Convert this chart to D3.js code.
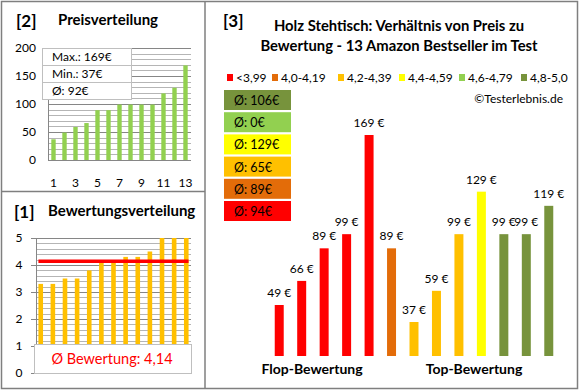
<!DOCTYPE html>
<html>
<head>
<meta charset="utf-8">
<title>Holz Stehtisch Preis / Bewertung</title>
<script src="https://d3js.org/d3.v7.min.js"></script>
<style>
  body { margin: 0; background: #fff; }
  text { font-family: Lato, "Open Sans", Arial, sans-serif; fill: #000; }
</style>
</head>
<body>
<div id="chart"></div>
<script>
// ---- data ----
var rankLabels = [1, 2, 3, 4, 5, 6, 7, 8, 9, 10, 11, 12, 13];
var pricesSorted = [37, 49, 59, 66, 89, 89, 99, 99, 99, 99, 119, 129, 169];
var priceTicks = [0, 50, 100, 150, 200];
var priceStats = ["Max.: 169€", "Min.: 37€", "Ø: 92€"];

var ratingsSorted = [3.3, 3.3, 3.5, 3.5, 3.8, 4.1, 4.1, 4.3, 4.3, 4.5, 5, 5, 5];
var ratingTicks = [0, 1, 2, 3, 4, 5];
var ratingAvg = 4.14;
var ratingAvgText = "Ø Bewertung: 4,14";

var legendLabels = ["<3,99", "4,0-4,19", "4,2-4,39", "4,4-4,59", "4,6-4,79", "4,8-5,0"];
var legendColors = ["#FF0000", "#E36C09", "#FFC000", "#FFFF00", "#92D050", "#77933C"];
var groupAvgLabels = ["Ø: 94€", "Ø: 89€", "Ø: 65€", "Ø: 129€", "Ø: 0€", "Ø: 106€"]; // same order as legend

var mainPrices = [49, 66, 89, 99, 169, 89, 37, 59, 99, 129, 99, 99, 119];
var mainGroup = [0, 0, 0, 0, 0, 1, 2, 2, 2, 3, 5, 5, 5];
var sectionLabels = ["Flop-Bewertung", "Top-Bewertung"];

var W = 580, H = 390;
var svg = d3.select("#chart").append("svg")
    .attr("width", W).attr("height", H);

svg.append("rect").attr("width", W).attr("height", H).attr("fill", "#fff");

// frame lines
var frame = svg.append("g").attr("stroke", "#7f7f7f").attr("stroke-width", 1.5).attr("fill", "none");
frame.append("rect").attr("x", 1.5).attr("y", 1.5).attr("width", 576).attr("height", 387);
frame.append("line").attr("x1", 205).attr("x2", 205).attr("y1", 1.5).attr("y2", 388.5);
frame.append("line").attr("x1", 1.5).attr("x2", 205).attr("y1", 191.5).attr("y2", 191.5);

// ===== [2] Preisverteilung =====
svg.append("text").attr("x", 16).attr("y", 27)
    .style("font-size", "17px").style("font-weight", "bold").text("[2]");
svg.append("text").attr("x", 58).attr("y", 25)
    .style("font-size", "15px").style("font-weight", "bold").text("Preisverteilung");

var x2 = d3.scaleBand().domain(rankLabels).range([48, 191]).paddingInner(0.6).paddingOuter(0.3);
var y2 = d3.scaleLinear().domain([0, 200]).range([160, 48]);

var g2 = svg.append("g");
g2.selectAll("line.minor").data(d3.range(0, 201, 10)).enter().append("line")
    .attr("x1", 48).attr("x2", 191)
    .attr("y1", function(d) { return Math.round(y2(d)) + 0.5; })
    .attr("y2", function(d) { return Math.round(y2(d)) + 0.5; })
    .attr("stroke", function(d) { return d % 50 === 0 ? "#868686" : "#b5b5b5"; });
g2.append("line").attr("x1", 48.5).attr("x2", 48.5).attr("y1", 48).attr("y2", 160).attr("stroke", "#868686");

g2.selectAll("rect.bar").data(pricesSorted).enter().append("rect")
    .attr("x", function(d, i) { return x2(rankLabels[i]); })
    .attr("width", x2.bandwidth())
    .attr("y", function(d) { return y2(d); })
    .attr("height", function(d) { return y2(0) - y2(d); })
    .attr("fill", "#92D050");

g2.selectAll("text.yt").data(priceTicks).enter().append("text")
    .attr("x", 36).attr("y", function(d) { return y2(d) + 4; })
    .attr("text-anchor", "end").style("font-size", "12px")
    .text(function(d) { return d; });
g2.selectAll("text.xt").data(rankLabels.filter(function(d) { return d % 2 === 1; })).enter().append("text")
    .attr("x", function(d) { return x2(d) + x2.bandwidth() / 2; })
    .attr("y", 187).attr("text-anchor", "middle").style("font-size", "12px")
    .text(function(d) { return d; });

// stats box
var sb = g2.append("g");
sb.selectAll("rect").data(priceStats).enter().append("rect")
    .attr("x", 42.5).attr("width", 89)
    .attr("y", function(d, i) { return 48.5 + i * 17; }).attr("height", 17)
    .attr("fill", "#fff").attr("stroke", "#bfbfbf");
sb.selectAll("text").data(priceStats).enter().append("text")
    .attr("x", 52).attr("y", function(d, i) { return 61 + i * 17; })
    .style("font-size", "12px").text(function(d) { return d; });

// ===== [1] Bewertungsverteilung =====
svg.append("text").attr("x", 14).attr("y", 218)
    .style("font-size", "17px").style("font-weight", "bold").text("[1]");
svg.append("text").attr("x", 48).attr("y", 216)
    .style("font-size", "15px").style("font-weight", "bold").text("Bewertungsverteilung");

var x1 = d3.scaleBand().domain(rankLabels).range([36, 191]).paddingInner(0.62).paddingOuter(0.2);
var y1 = d3.scaleLinear().domain([0, 5]).range([373, 238]);

var g1 = svg.append("g");
g1.selectAll("line.grid").data(d3.range(0, 26)).enter().append("line")
    .attr("x1", function(d) { return d % 5 === 0 ? 31 : 36; }).attr("x2", 191)
    .attr("y1", function(d) { return Math.round(y1(d / 5)) + 0.5; })
    .attr("y2", function(d) { return Math.round(y1(d / 5)) + 0.5; })
    .attr("stroke", function(d) { return d % 5 === 0 ? "#868686" : "#b5b5b5"; });
g1.append("line").attr("x1", 36.5).attr("x2", 36.5).attr("y1", 238).attr("y2", 373).attr("stroke", "#868686");

g1.selectAll("rect.bar").data(ratingsSorted).enter().append("rect")
    .attr("x", function(d, i) { return x1(rankLabels[i]); })
    .attr("width", x1.bandwidth())
    .attr("y", function(d) { return y1(d); })
    .attr("height", function(d) { return y1(0) - y1(d); })
    .attr("fill", "#FFC000");

g1.append("line")
    .attr("x1", x1(1)).attr("x2", x1(13) + x1.bandwidth())
    .attr("y1", y1(ratingAvg)).attr("y2", y1(ratingAvg))
    .attr("stroke", "#FF0000").attr("stroke-width", 3.5);

g1.selectAll("text.yt").data(ratingTicks).enter().append("text")
    .attr("x", 19).attr("y", function(d) { return y1(d) + 4; })
    .attr("text-anchor", "middle").style("font-size", "12px")
    .text(function(d) { return d; });

g1.append("rect").attr("x", 34.5).attr("y", 344.5).attr("width", 157).attr("height", 29)
    .attr("fill", "#fff").attr("stroke", "#bfbfbf");
g1.append("text").attr("x", 112).attr("y", 364).attr("text-anchor", "middle")
    .style("font-size", "14.5px").style("fill", "#FF0000").text(ratingAvgText);

// ===== [3] main chart =====
svg.append("text").attr("x", 223).attr("y", 27)
    .style("font-size", "17px").style("font-weight", "bold").text("[3]");
svg.append("text").attr("x", 399).attr("y", 31).attr("text-anchor", "middle")
    .style("font-size", "14.8px").style("font-weight", "bold").text("Holz Stehtisch: Verhältnis von Preis zu");
svg.append("text").attr("x", 399).attr("y", 51).attr("text-anchor", "middle")
    .style("font-size", "14.8px").style("font-weight", "bold").text("Bewertung - 13 Amazon Bestseller im Test");

// legend
var legX = [227, 272, 338, 399, 459, 521];
var leg = svg.append("g").selectAll("g").data(legendLabels).enter().append("g")
    .attr("transform", function(d, i) { return "translate(" + legX[i] + ",74)"; });
leg.append("rect").attr("width", 6).attr("height", 7)
    .attr("fill", function(d, i) { return legendColors[i]; });
leg.append("text").attr("x", 9).attr("y", 8).style("font-size", "12px")
    .text(function(d) { return d; });

svg.append("text").attr("x", 563).attr("y", 103).attr("text-anchor", "end")
    .style("font-size", "12px").text("©Testerlebnis.de");

// average boxes (top: best group)
var avgBoxes = svg.append("g").selectAll("g").data(d3.range(5, -1, -1)).enter().append("g")
    .attr("transform", function(d, i) { return "translate(224," + (90 + i * 22.2) + ")"; });
avgBoxes.append("rect").attr("width", 67).attr("height", 20)
    .attr("fill", function(d) { return legendColors[d]; });
avgBoxes.append("text").attr("x", 10).attr("y", 15).style("font-size", "12.5px")
    .text(function(d) { return groupAvgLabels[d]; });

var x3 = d3.scaleBand().domain(d3.range(mainPrices.length)).range([268, 560]).paddingInner(0.6).paddingOuter(0.3);
var y3 = d3.scaleLinear().domain([13, 169]).range([356, 135]);

var g3 = svg.append("g");
g3.selectAll("rect").data(mainPrices).enter().append("rect")
    .attr("x", function(d, i) { return x3(i); })
    .attr("width", x3.bandwidth())
    .attr("y", function(d) { return y3(d); })
    .attr("height", function(d) { return y3(13) - y3(d); })
    .attr("fill", function(d, i) { return legendColors[mainGroup[i]]; });
g3.selectAll("text").data(mainPrices).enter().append("text")
    .attr("x", function(d, i) { return x3(i) + x3.bandwidth() / 2; })
    .attr("y", function(d) { return y3(d) - 8; })
    .attr("text-anchor", "middle").style("font-size", "12px")
    .text(function(d) { return d + " €"; });

svg.selectAll("text.sec").data(sectionLabels).enter().append("text")
    .attr("x", function(d, i) { return i === 0 ? 312 : 474; })
    .attr("y", 374).attr("text-anchor", "middle")
    .style("font-size", "14px").style("font-weight", "bold")
    .text(function(d) { return d; });
</script>
</body>
</html>
